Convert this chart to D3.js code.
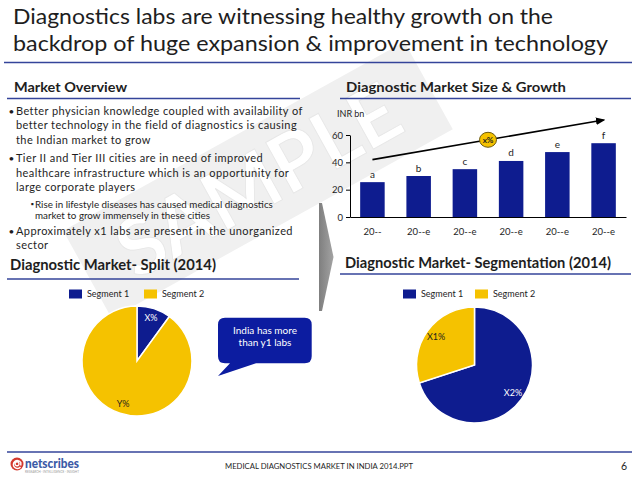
<!DOCTYPE html>
<html>
<head>
<meta charset="utf-8">
<script src="https://cdn.jsdelivr.net/npm/d3@7"></script>
<style>
  body { margin: 0; background: #fff; }
  svg { display: block; font-family: Lato, "Open Sans", sans-serif; }
</style>
</head>
<body>
<svg id="slide"></svg>
<script>
// market size chart
var years = ["20--", "20--e", "20--e", "20--e", "20--e", "20--e"];
var marketSize = [25.5, 30, 35, 41, 47.5, 54];
var barLabels = ["a", "b", "c", "d", "e", "f"];
var yTicks = [0, 20, 40, 60];
var growthLabel = "x%";
var growthFrom = 42, growthTo = 71;

// pies
var segmentNames = ["Segment 1", "Segment 2"];
var splitValues = [10, 90];
var splitLabels = ["X%", "Y%"];
var segmentationValues = [70, 30];
var segmentationLabels = ["X2%", "X1%"];

// text
var titleLines = [
  "Diagnostics labs are witnessing healthy growth on the",
  "backdrop of huge expansion & improvement in technology"
];
var bullets = [
  { level: 1, lines: ["Better physician knowledge coupled with availability of",
                      "better technology in the field of diagnostics is causing",
                      "the Indian market to grow"] },
  { level: 1, lines: ["Tier II and Tier III cities are in need of improved",
                      "healthcare infrastructure which is an opportunity for",
                      "large corporate players"] },
  { level: 2, lines: ["Rise in lifestyle diseases has caused medical diagnostics",
                      "market to grow immensely in these cities"] },
  { level: 1, lines: ["Approximately  x1 labs are present in the unorganized",
                      "sector"] }
];
var calloutLines = ["India has more", "than y1 labs"];
var footerText = "MEDICAL DIAGNOSTICS MARKET IN INDIA 2014.PPT";
var pageNumber = "6";

var BLUE = "#0e1c8f", YELLOW = "#f5c200", RULE = "#34449a", INK = "#1e1e1e";

var svg = d3.select("#slide").attr("width", 638).attr("height", 479);
svg.append("rect").attr("width", 638).attr("height", 479).attr("fill", "#fff");

var defs = svg.append("defs");
defs.append("marker")
    .attr("id", "arrowhead")
    .attr("viewBox", "0 0 10 10")
    .attr("refX", 8).attr("refY", 5)
    .attr("markerWidth", 6).attr("markerHeight", 6)
    .attr("orient", "auto")
  .append("path")
    .attr("d", "M0,1 L10,5 L0,9 Z")
    .attr("fill", "#000");
var grad = defs.append("linearGradient").attr("id", "chev").attr("x1", 0).attr("x2", 1);
grad.append("stop").attr("offset", 0).attr("stop-color", "#7f7f7f");
grad.append("stop").attr("offset", 1).attr("stop-color", "#a3a3a3");

// watermark
var wm = svg.append("g").attr("transform", "translate(258,180) rotate(-29)");
wm.append("rect")
    .attr("x", -195).attr("y", -50).attr("width", 390).attr("height", 100)
    .attr("fill", "#f0f0f0");
wm.append("text")
    .attr("text-anchor", "middle").attr("dy", "0.36em")
    .attr("font-size", 80).attr("font-weight", 700)
    .attr("fill", "#fff").attr("stroke", "#e6e6e6").attr("stroke-width", 0.8)
    .text("SAMPLE");

// title
svg.selectAll(".title")
  .data(titleLines)
  .join("text")
    .attr("class", "title")
    .attr("x", 13)
    .attr("y", function (d, i) { return 24 + i * 27; })
    .attr("font-size", 20.5)
    .attr("fill", INK)
    .attr("textLength", function (d, i) { return i == 0 ? 540 : 595; })
    .attr("lengthAdjust", "spacingAndGlyphs")
    .text(function (d) { return d; });

function rule(x1, x2, y, w) {
  svg.append("line")
      .attr("x1", x1).attr("x2", x2).attr("y1", y).attr("y2", y)
      .attr("stroke", RULE).attr("stroke-width", w || 1.5);
}
function heading(txt, x, y, size, len) {
  svg.append("text")
      .attr("x", x).attr("y", y)
      .attr("font-size", size).attr("font-weight", 700)
      .attr("fill", INK)
      .attr("textLength", len).attr("lengthAdjust", "spacingAndGlyphs")
      .text(txt);
}

rule(4, 632, 62.5, 1.5);
heading("Market Overview", 14, 92, 12.5, 113);
rule(7, 300, 98.5);
heading("Diagnostic Market Size & Growth", 346, 92, 12.5, 220);
rule(340, 631, 98.5);
heading("Diagnostic Market- Split (2014)", 10, 270, 14.5, 206);
rule(7, 299, 279);
heading("Diagnostic Market- Segmentation (2014)", 345, 268, 14.5, 266);
rule(340, 631, 274);

// bullets
var lineY = 114.5;
bullets.forEach(function (b, bi) {
  var tx = b.level == 1 ? 16 : 35;
  if (bi > 0) lineY += b.level == 1 ? 4 : 2;
  svg.append("text")
      .attr("x", b.level == 1 ? 8.5 : 30.5)
      .attr("y", b.level == 1 ? lineY : lineY - 0.5)
      .attr("font-size", b.level == 1 ? 10 : 8)
      .attr("fill", INK)
      .text(b.level == 1 ? "\u2022" : "\u25AA");
  b.lines.forEach(function (ln) {
    svg.append("text")
        .attr("x", tx).attr("y", lineY)
        .attr("font-size", b.level == 1 ? 11 : 9.8)
        .attr("fill", INK)
        .attr("letter-spacing", b.level == 1 ? 0.41 : 0)
        .text(ln);
    lineY += b.level == 1 ? 14.5 : 11.7;
  });
});

// chevron between the panels
svg.append("path")
    .attr("d", "M319,203 L322,203 L333.5,257 L322,311 L319,311 Z")
    .attr("fill", "url(#chev)");

// bar chart
var xScale = d3.scaleBand()
    .domain(d3.range(years.length))
    .range([350, 626])
    .paddingInner(0.47)
    .paddingOuter(0.22);
var yScale = d3.scaleLinear().domain([0, 60]).range([217, 135]);

svg.append("text")
    .attr("x", 337).attr("y", 117)
    .attr("font-size", 9).attr("fill", INK)
    .text("INR bn");

svg.selectAll(".bar")
  .data(marketSize)
  .join("rect")
    .attr("class", "bar")
    .attr("x", function (d, i) { return xScale(i); })
    .attr("y", function (d) { return yScale(d); })
    .attr("width", xScale.bandwidth())
    .attr("height", function (d) { return yScale(0) - yScale(d); })
    .attr("fill", BLUE);

svg.selectAll(".barlabel")
  .data(marketSize)
  .join("text")
    .attr("class", "barlabel")
    .attr("x", function (d, i) { return xScale(i) + xScale.bandwidth() / 2; })
    .attr("y", function (d) { return yScale(d) - 4.5; })
    .attr("text-anchor", "middle")
    .attr("font-size", 10).attr("fill", INK)
    .text(function (d, i) { return barLabels[i]; });

var yAxis = svg.append("g")
    .attr("transform", "translate(350,0)")
    .call(d3.axisLeft(yScale).tickValues(yTicks).tickSize(4).tickSizeOuter(0).tickPadding(3));
var xAxis = svg.append("g")
    .attr("transform", "translate(0,217)")
    .call(d3.axisBottom(xScale).tickSize(0).tickPadding(11).tickFormat(function (i) { return years[i]; }));
[xAxis, yAxis].forEach(function (ax) {
  ax.select(".domain").attr("stroke", "#000");
  ax.selectAll(".tick line").attr("stroke", "#000");
  ax.selectAll("text").attr("font-family", "Lato, sans-serif").attr("font-size", 9.5).attr("fill", INK);
});

// growth arrow
var last = years.length - 1;
var ax1 = xScale(0) + xScale.bandwidth() / 2, ay1 = yScale(growthFrom);
var ax2 = xScale(last) + xScale.bandwidth() / 2, ay2 = yScale(growthTo);
svg.append("line")
    .attr("x1", ax1).attr("y1", ay1).attr("x2", ax2).attr("y2", ay2)
    .attr("stroke", "#000").attr("stroke-width", 1.6)
    .attr("marker-end", "url(#arrowhead)");
svg.append("ellipse")
    .attr("cx", (ax1 + ax2) / 2).attr("cy", (ay1 + ay2) / 2)
    .attr("rx", 8.5).attr("ry", 7.5)
    .attr("fill", YELLOW).attr("stroke", "#6b5a10").attr("stroke-width", 1);
svg.append("text")
    .attr("x", (ax1 + ax2) / 2).attr("y", (ay1 + ay2) / 2 + 3)
    .attr("text-anchor", "middle")
    .attr("font-size", 8).attr("font-weight", 700).attr("fill", INK)
    .text(growthLabel);

// legends + pies
var pieColors = [BLUE, YELLOW];
function legend(x0, x1, cy) {
  [x0, x1].forEach(function (x, i) {
    svg.append("rect")
        .attr("x", x).attr("y", cy - 4.5).attr("width", 13).attr("height", 9)
        .attr("fill", pieColors[i]);
    svg.append("text")
        .attr("x", x + 18).attr("y", cy + 3.2)
        .attr("font-size", 9).attr("fill", INK)
        .text(segmentNames[i]);
  });
}
function pie(values, labels, cx, cy, r, labelColors) {
  var arcs = d3.pie().sort(null)(values);
  var arc = d3.arc().innerRadius(0).outerRadius(r);
  var labelArc = d3.arc().innerRadius(r * 0.82).outerRadius(r * 0.82);
  var g = svg.append("g").attr("transform", "translate(" + cx + "," + cy + ")");
  g.selectAll("path")
    .data(arcs)
    .join("path")
      .attr("d", arc)
      .attr("fill", function (d, i) { return pieColors[i]; })
      .attr("stroke", "#fff").attr("stroke-width", 1.5);
  g.selectAll("text")
    .data(arcs)
    .join("text")
      .attr("transform", function (d) { return "translate(" + labelArc.centroid(d) + ")"; })
      .attr("text-anchor", "middle").attr("dy", "0.35em")
      .attr("font-size", 9).attr("fill", function (d, i) { return labelColors[i]; })
      .text(function (d, i) { return labels[i]; });
}
legend(69, 144, 294);
pie(splitValues, splitLabels, 137, 361, 55, ["#fff", INK]);
legend(403, 475, 294);
pie(segmentationValues, segmentationLabels, 474.5, 365, 58, ["#fff", INK]);

// callout
svg.append("path")
    .attr("d", "M225,317.7 H304.7 Q311.7,317.7 311.7,324.7 V356.3 Q311.7,363.3 304.7,363.3 H256 L218,376 L230,363.3 H225 Q218,363.3 218,356.3 V324.7 Q218,317.7 225,317.7 Z")
    .attr("fill", "#0c1ca0");
svg.selectAll(".callout")
  .data(calloutLines)
  .join("text")
    .attr("class", "callout")
    .attr("x", 265)
    .attr("y", function (d, i) { return 333.5 + i * 12.7; })
    .attr("text-anchor", "middle")
    .attr("font-size", 10).attr("fill", "#fff")
    .text(function (d) { return d; });

// footer
rule(7, 632, 452, 1.5);
svg.append("text")
    .attr("x", 225).attr("y", 469)
    .attr("font-size", 8).attr("fill", INK)
    .attr("textLength", 188).attr("lengthAdjust", "spacingAndGlyphs")
    .text(footerText);
svg.append("text")
    .attr("x", 624).attr("y", 469.5)
    .attr("text-anchor", "middle")
    .attr("font-size", 10.5).attr("fill", INK)
    .text(pageNumber);

// netscribes logo
var logo = svg.append("g").attr("transform", "translate(17,464)");
logo.append("circle").attr("r", 6.5).attr("fill", "#d4392e");
logo.append("path")
    .attr("d", "M3.5,3 A4,4 0 1 1 3.8,-1.5 L3.8,1.5 M0,-2.2 A2,2 0 1 0 0.1,-2.2")
    .attr("fill", "none").attr("stroke", "#fff").attr("stroke-width", 1.4);
svg.append("text")
    .attr("x", 25).attr("y", 467.5)
    .attr("font-size", 12.5).attr("font-weight", 900).attr("fill", "#3b5aa6")
    .attr("textLength", 54).attr("lengthAdjust", "spacingAndGlyphs")
    .text("netscribes");
svg.append("text")
    .attr("x", 25).attr("y", 472.5)
    .attr("font-size", 3).attr("fill", "#999")
    .attr("textLength", 54).attr("lengthAdjust", "spacingAndGlyphs")
    .text("RESEARCH · INTELLIGENCE · INSIGHT");
</script>
</body>
</html>
